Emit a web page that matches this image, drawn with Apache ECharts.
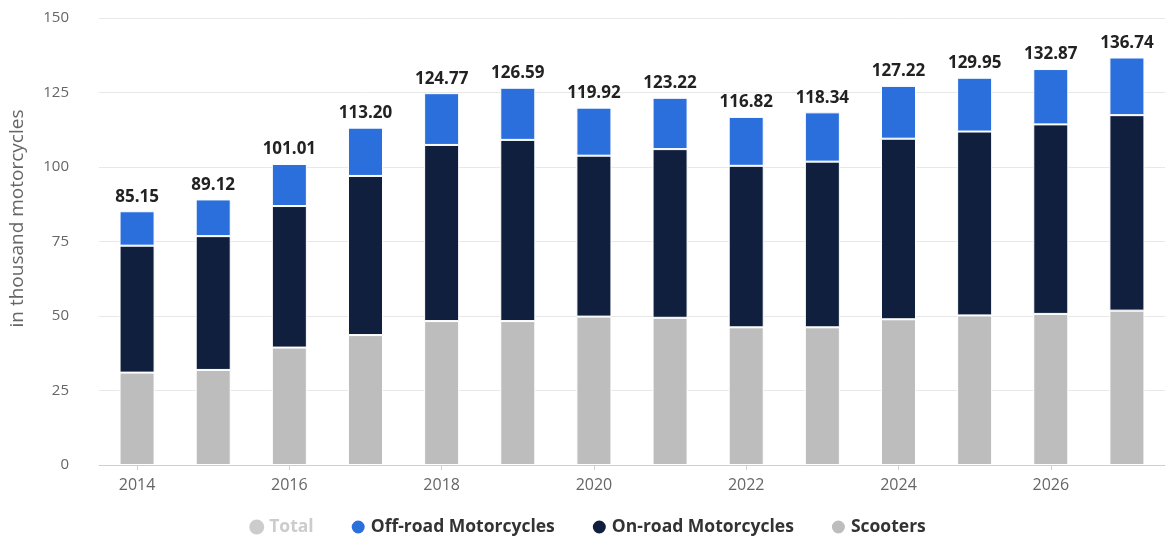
<!DOCTYPE html>
<html>
<head>
<meta charset="utf-8">
<script src="https://cdn.jsdelivr.net/npm/echarts@6/dist/echarts.min.js"></script>
<style>
  html, body { margin: 0; padding: 0; background: #fff; }
  #chart { width: 1175px; height: 544px; }
</style>
</head>
<body>
<div id="chart"></div>
<script>
// Motorcycle sales by segment, in thousand units
const years = ['2014','2015','2016','2017','2018','2019','2020','2021','2022','2023','2024','2025','2026','2027'];
const totals = [85.15, 89.12, 101.01, 113.20, 124.77, 126.59, 119.92, 123.22, 116.82, 118.34, 127.22, 129.95, 132.87, 136.74];
const scooters = [31.0, 31.9, 39.4, 43.6, 48.3, 48.3, 49.8, 49.4, 46.2, 46.2, 48.9, 50.2, 50.7, 51.8];
const onRoad = [42.6, 44.9, 47.5, 53.4, 59.1, 60.8, 54.0, 56.6, 54.2, 55.6, 60.6, 61.7, 63.6, 65.6];
const offRoad = [11.55, 12.32, 14.11, 16.2, 17.37, 17.49, 16.12, 17.22, 16.42, 16.54, 17.72, 18.05, 18.57, 19.34];
const yTicks = [0, 25, 50, 75, 100, 125, 150];

const FONT = '"Open Sans", "Noto Sans", sans-serif';

const chart = echarts.init(document.getElementById('chart'), null, { renderer: 'canvas' });

const barBase = {
  type: 'bar',
  stack: 'segments',
  barWidth: '46%'
};

chart.setOption({
  animation: false,
  textStyle: { fontFamily: FONT },
  grid: { left: 98, right: 10, top: 18, bottom: 79 },
  legend: {
    bottom: 3,
    left: 'center',
    icon: 'circle',
    itemWidth: 15,
    itemHeight: 15,
    itemGap: 36,
    textStyle: { fontFamily: FONT, fontSize: 17.5, fontWeight: 'bold', color: '#333' },
    inactiveColor: '#cccccc',
    data: ['Total', 'Off-road Motorcycles', 'On-road Motorcycles', 'Scooters'],
    selected: { 'Total': false }
  },
  xAxis: {
    type: 'category',
    data: years,
    axisLine: { lineStyle: { color: '#cfcfcf' } },
    axisTick: { show: true, alignWithLabel: true, interval: 1, length: 5, lineStyle: { color: '#cfcfcf' } },
    axisLabel: { interval: 1, color: '#666', fontSize: 16, margin: 12, fontFamily: FONT }
  },
  yAxis: {
    type: 'value',
    min: yTicks[0],
    max: yTicks[yTicks.length - 1],
    interval: 25,
    name: 'in thousand motorcycles',
    nameLocation: 'middle',
    nameGap: 72,
    nameTextStyle: { color: '#666', fontSize: 19, fontFamily: FONT, padding: [0, 0, 0, 46] },
    axisLine: { show: false },
    axisTick: { show: false },
    axisLabel: { color: '#666', fontSize: 15, margin: 30, fontFamily: FONT },
    splitLine: { lineStyle: { color: '#e8e8e8', width: 1 } }
  },
  series: [
    Object.assign({}, barBase, {
      name: 'Scooters',
      data: scooters,
      itemStyle: { color: '#bdbdbd', borderColor: '#ffffff', borderWidth: 1 }
    }),
    Object.assign({}, barBase, {
      name: 'On-road Motorcycles',
      data: onRoad,
      itemStyle: { color: '#0f1f3d', borderColor: '#ffffff', borderWidth: 1 }
    }),
    Object.assign({}, barBase, {
      name: 'Off-road Motorcycles',
      data: offRoad,
      itemStyle: { color: '#2b6fdd', borderColor: '#ffffff', borderWidth: 1 },
      label: {
        show: true,
        position: 'top',
        distance: 6,
        color: '#222',
        fontSize: 17,
        fontWeight: 'bold',
        fontFamily: FONT,
        formatter: p => totals[p.dataIndex].toFixed(2)
      }
    }),
    {
      name: 'Total',
      type: 'line',
      data: totals,
      symbol: 'none',
      lineStyle: { opacity: 0 },
      itemStyle: { color: '#bdbdbd' }
    }
  ]
});
</script>
</body>
</html>
